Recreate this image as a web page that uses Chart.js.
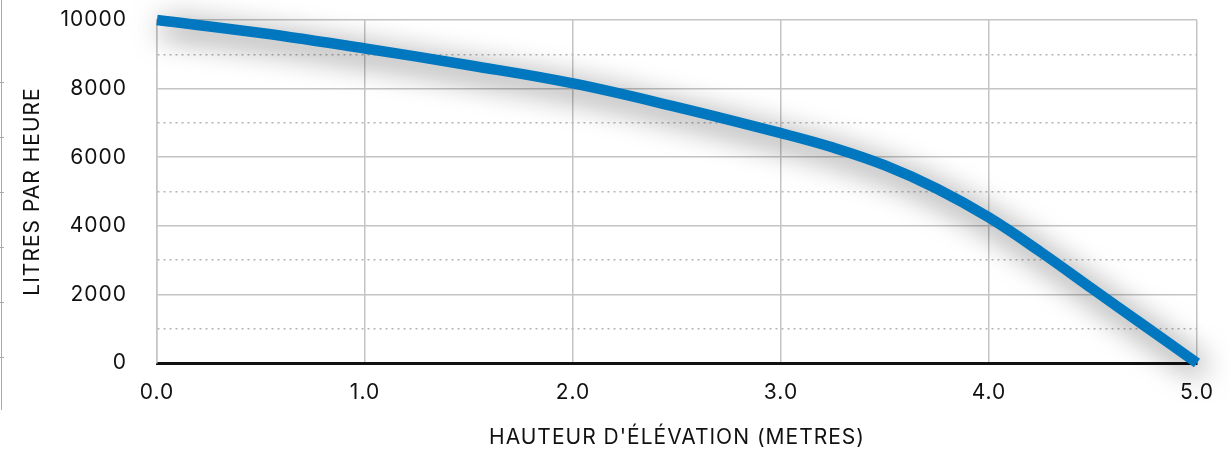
<!DOCTYPE html>
<html>
<head>
<meta charset="utf-8">
<script src="https://cdn.jsdelivr.net/npm/chart.js@4"></script>
<style>
  html, body { margin: 0; padding: 0; background: #fff; }
  #wrap { width: 1230px; height: 452px; position: relative; }
</style>
</head>
<body>
<div id="wrap"><canvas id="chart"></canvas></div>
<script>
// --- DATA ---
const heights = [0, 0.5, 1, 1.5, 2, 2.5, 3, 3.25, 3.5, 3.75, 4, 4.25, 4.5, 4.75, 5];
const flows = [10000, 9620, 9170, 8680, 8150, 7460, 6700, 6280, 5760, 5080, 4240, 3230, 2150, 1075, 0];
const xTitle = "HAUTEUR D'ÉLÉVATION (METRES)";
const yTitle = 'LITRES PAR HEURE';

const FONT = "Inter, 'Liberation Sans', sans-serif";
Chart.defaults.font.family = FONT;
Chart.defaults.color = '#111';

// slightly spaced lettering like the original
const spacing = {
  id: 'spacing',
  beforeDraw(chart) { chart.ctx.letterSpacing = '1px'; }
};

// soft grey shadow under the curve
const lineShadow = {
  id: 'lineShadow',
  beforeDatasetsDraw(chart) {
    const c = chart.ctx;
    c.save();
    c.shadowColor = 'rgba(0,0,0,0.65)';
    c.shadowBlur = 30;
    c.shadowOffsetX = 5;
    c.shadowOffsetY = 7;
  },
  afterDatasetsDraw(chart) { chart.ctx.restore(); }
};

// thin ruler left over at the page edge
const edgeRuler = {
  id: 'edgeRuler',
  afterDraw(chart) {
    const c = chart.ctx;
    c.save();
    c.strokeStyle = '#aaa';
    c.lineWidth = 1;
    c.beginPath();
    c.moveTo(1.5, 0); c.lineTo(1.5, 410);
    [82, 137, 192, 247, 302, 357].forEach(y => { c.moveTo(0, y + 0.5); c.lineTo(4, y + 0.5); });
    c.stroke();
    c.restore();
  }
};

new Chart(document.getElementById('chart'), {
  type: 'line',
  data: {
    datasets: [{
      data: heights.map((h, i) => ({ x: h, y: flows[i] })),
      borderColor: '#0077BE',
      borderWidth: 10.5,
      borderCapStyle: 'butt',
      pointRadius: 0,
      tension: 0.4,
      clip: false,
      fill: false
    }]
  },
  options: {
    responsive: true, maintainAspectRatio: false, animation: false,
    layout: { padding: { top: 20, right: 33, left: 0, bottom: 0 } },
    plugins: { legend: { display: false }, tooltip: { enabled: false } },
    scales: {
      x: {
        type: 'linear', min: 0, max: 5,
        ticks: { stepSize: 1, padding: 17, font: { size: 21 }, color: '#111', callback: v => v.toFixed(1) },
        grid: { color: '#c4c4c4', lineWidth: 1.5, drawTicks: false },
        border: { color: '#111', width: 3 },
        title: { display: true, text: xTitle, font: { size: 21 }, color: '#111', padding: { top: 10, bottom: 2 } },
        afterFit: s => { s.height = 89; }
      },
      y: {
        min: 0, max: 10000,
        ticks: { stepSize: 1000, padding: 30, font: { size: 21 }, color: '#111',
          callback: v => v % 2000 === 0 ? v : '' },
        grid: {
          drawTicks: false,
          color: c => c.tick && c.tick.value % 2000 ? '#b4b4b4' : '#c4c4c4',
          lineWidth: 1.5
        },
        border: { color: '#c4c4c4', width: 1.5,
          dash: c => c.tick && c.tick.value % 2000 ? [2, 4] : [] },
        title: { display: true, text: yTitle, font: { size: 21 }, color: '#111', padding: { top: 20, bottom: 10 } },
        afterFit: s => { s.width = 157; s.paddingTop = 12; s.paddingBottom = 12; }
      }
    }
  },
  plugins: [spacing, lineShadow, edgeRuler]
});
</script>
</body>
</html>
